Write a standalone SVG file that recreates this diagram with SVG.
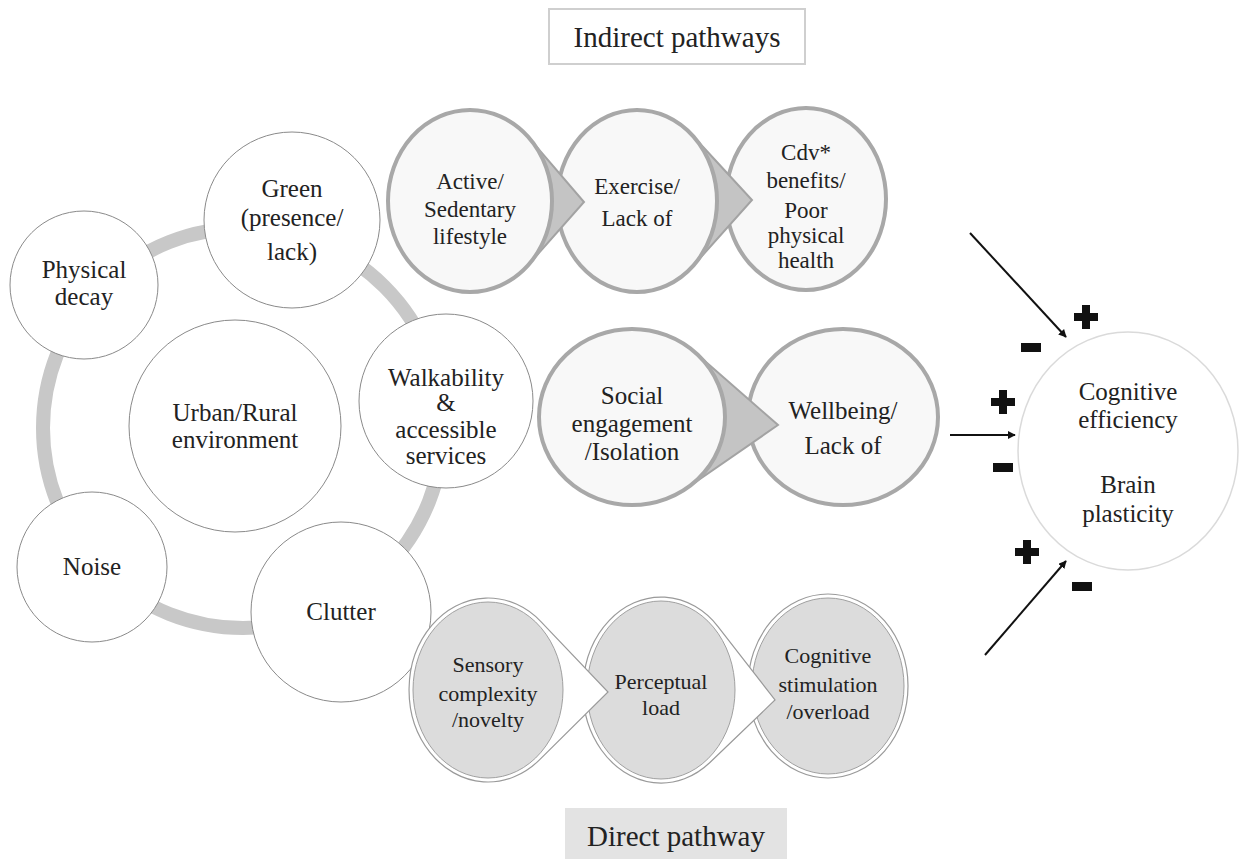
<svg xmlns="http://www.w3.org/2000/svg" width="1240" height="859" viewBox="0 0 1240 859" font-family="'Liberation Serif', 'Times New Roman', serif">
<defs>
<style>
text{font-family:'Liberation Serif','Times New Roman',serif;fill:#222;text-anchor:middle}
.t25{font-size:25px}.t23{font-size:23px}.t22{font-size:22px}.t29{font-size:29px}
.env{fill:#fff;stroke:#8a8a8a;stroke-width:1}
.tailA{fill:#c4c4c4;stroke:#a3a3a3;stroke-width:2}
.nodeA{fill:#f8f8f8;stroke:#a8a8a8;stroke-width:4}
.tailB{fill:#fff;stroke:#9a9a9a;stroke-width:1.2}
.nodeB{fill:#dcdcdc;stroke:#a0a0a0;stroke-width:1}
.arr{stroke:#111;stroke-width:2;fill:none;marker-end:url(#ah)}
.sign{fill:#111}
</style>
<marker id="ah" viewBox="0 0 10 10" refX="9" refY="5" markerWidth="8" markerHeight="8" orient="auto" markerUnits="userSpaceOnUse">
<path d="M0,0 L10,5 L0,10 z" fill="#111"/>
</marker>
</defs>
<rect width="1240" height="859" fill="#fff"/>

<g id="title-indirect">
<rect x="549" y="9" width="256" height="55" fill="#fff" stroke="#cfcfcf" stroke-width="2"/>
<text class="t29" x="677" y="47">Indirect pathways</text>
</g>
<g id="title-direct">
<rect x="565" y="808" width="222" height="51" fill="#e3e3e3"/>
<text class="t29" x="676" y="846">Direct pathway</text>
</g>

<g id="ring">
<circle cx="243" cy="428" r="200" fill="none" stroke="#c8c8c8" stroke-width="14"/>
</g>

<g id="urban">
<circle class="env" cx="235" cy="426" r="106"/>
<text class="t25" x="235" y="421">Urban/Rural</text>
<text class="t25" x="235" y="448">environment</text>
</g>
<g id="physical-decay">
<circle class="env" cx="84" cy="285" r="74"/>
<text class="t25" x="84" y="278">Physical</text>
<text class="t25" x="84" y="305">decay</text>
</g>
<g id="green">
<circle class="env" cx="292" cy="220" r="88"/>
<text class="t25" x="292" y="197">Green</text>
<text class="t25" x="292" y="226">(presence/</text>
<text class="t25" x="292" y="260">lack)</text>
</g>
<g id="walkability">
<circle class="env" cx="446" cy="401" r="87"/>
<text class="t25" x="446" y="386">Walkability</text>
<text class="t25" x="446" y="411">&amp;</text>
<text class="t25" x="446" y="438">accessible</text>
<text class="t25" x="446" y="464">services</text>
</g>
<g id="noise">
<circle class="env" cx="92" cy="567" r="75"/>
<text class="t25" x="92" y="575">Noise</text>
</g>
<g id="clutter">
<circle class="env" cx="341" cy="612" r="90"/>
<text class="t25" x="341" y="620">Clutter</text>
</g>

<g id="cdv">
<ellipse class="nodeA" cx="806" cy="199" rx="80" ry="91"/>
<text class="t23" x="806" y="160">Cdv*</text>
<text class="t23" x="806" y="188">benefits/</text>
<text class="t23" x="806" y="218">Poor</text>
<text class="t23" x="806" y="243">physical</text>
<text class="t23" x="806" y="268">health</text>
</g>
<g id="exercise">
<path class="tailA" d="M692.3,135.2 L752,200 L693.1,265.9 A80,91 0 1 1 692.3,135.2 Z"/>
<ellipse class="nodeA" cx="637" cy="201" rx="80" ry="91"/>
<text class="t23" x="637" y="194">Exercise/</text>
<text class="t23" x="637" y="226">Lack of</text>
</g>
<g id="active">
<path class="tailA" d="M529.4,138.3 L584,202 L528.5,264.7 A82,91 0 1 1 529.4,138.3 Z"/>
<ellipse class="nodeA" cx="470" cy="201" rx="82" ry="91"/>
<text class="t23" x="470" y="189">Active/</text>
<text class="t23" x="470" y="217">Sedentary</text>
<text class="t23" x="470" y="244">lifestyle</text>
</g>

<g id="wellbeing">
<ellipse class="nodeA" cx="843" cy="417" rx="95" ry="88"/>
<text class="t25" x="843" y="419">Wellbeing/</text>
<text class="t25" x="843" y="454">Lack of</text>
</g>
<g id="social">
<path class="tailA" d="M695.1,352.5 L778,425 L687,488 A93,88 0 1 1 695.1,352.5 Z"/>
<ellipse class="nodeA" cx="632" cy="417" rx="93" ry="88"/>
<text class="t25" x="632" y="404">Social</text>
<text class="t25" x="632" y="432">engagement</text>
<text class="t25" x="632" y="460">/Isolation</text>
</g>

<g id="cog-stim">
<ellipse class="tailB" cx="828" cy="686" rx="80" ry="92"/>
<ellipse class="nodeB" cx="828" cy="686" rx="76" ry="88"/>
<text class="t22" x="828" y="663">Cognitive</text>
<text class="t22" x="828" y="692">stimulation</text>
<text class="t22" x="828" y="719">/overload</text>
</g>
<g id="perceptual">
<path class="tailB" d="M718.2,626.8 L775,700 L709.9,762.5 A78,93 0 1 1 718.2,626.8 Z"/>
<ellipse class="nodeB" cx="661" cy="690" rx="74" ry="89"/>
<text class="t22" x="661" y="689">Perceptual</text>
<text class="t22" x="661" y="715">load</text>
</g>
<g id="sensory">
<path class="tailB" d="M540.9,621.6 L608,692 L539.2,760.1 A79,92 0 1 1 540.9,621.6 Z"/>
<ellipse class="nodeB" cx="488" cy="690" rx="75" ry="88"/>
<text class="t22" x="488" y="672">Sensory</text>
<text class="t22" x="488" y="701">complexity</text>
<text class="t22" x="488" y="727">/novelty</text>
</g>

<g id="cognitive-efficiency">
<ellipse cx="1128" cy="451" rx="110" ry="119" fill="#fff" stroke="#dadada" stroke-width="1.5"/>
<text class="t25" x="1128" y="400">Cognitive</text>
<text class="t25" x="1128" y="428">efficiency</text>
<text class="t25" x="1128" y="493">Brain</text>
<text class="t25" x="1128" y="522">plasticity</text>
</g>

<g id="connectors">
<line class="arr" x1="970" y1="233" x2="1066" y2="337"/>
<line class="arr" x1="950" y1="435" x2="1015" y2="435"/>
<line class="arr" x1="985" y1="655" x2="1066" y2="561"/>
</g>

<g id="signs">
<path class="sign" d="M1082,305 h8 v8 h8 v8 h-8 v8 h-8 v-8 h-8 v-8 h8 z"/>
<rect class="sign" x="1021" y="343" width="20" height="9"/>
<path class="sign" d="M999,390 h8 v8 h8 v8 h-8 v8 h-8 v-8 h-8 v-8 h8 z"/>
<rect class="sign" x="993" y="463" width="20" height="9"/>
<path class="sign" d="M1023,540 h8 v8 h8 v8 h-8 v8 h-8 v-8 h-8 v-8 h8 z"/>
<rect class="sign" x="1072" y="582" width="20" height="9"/>
</g>
</svg>
